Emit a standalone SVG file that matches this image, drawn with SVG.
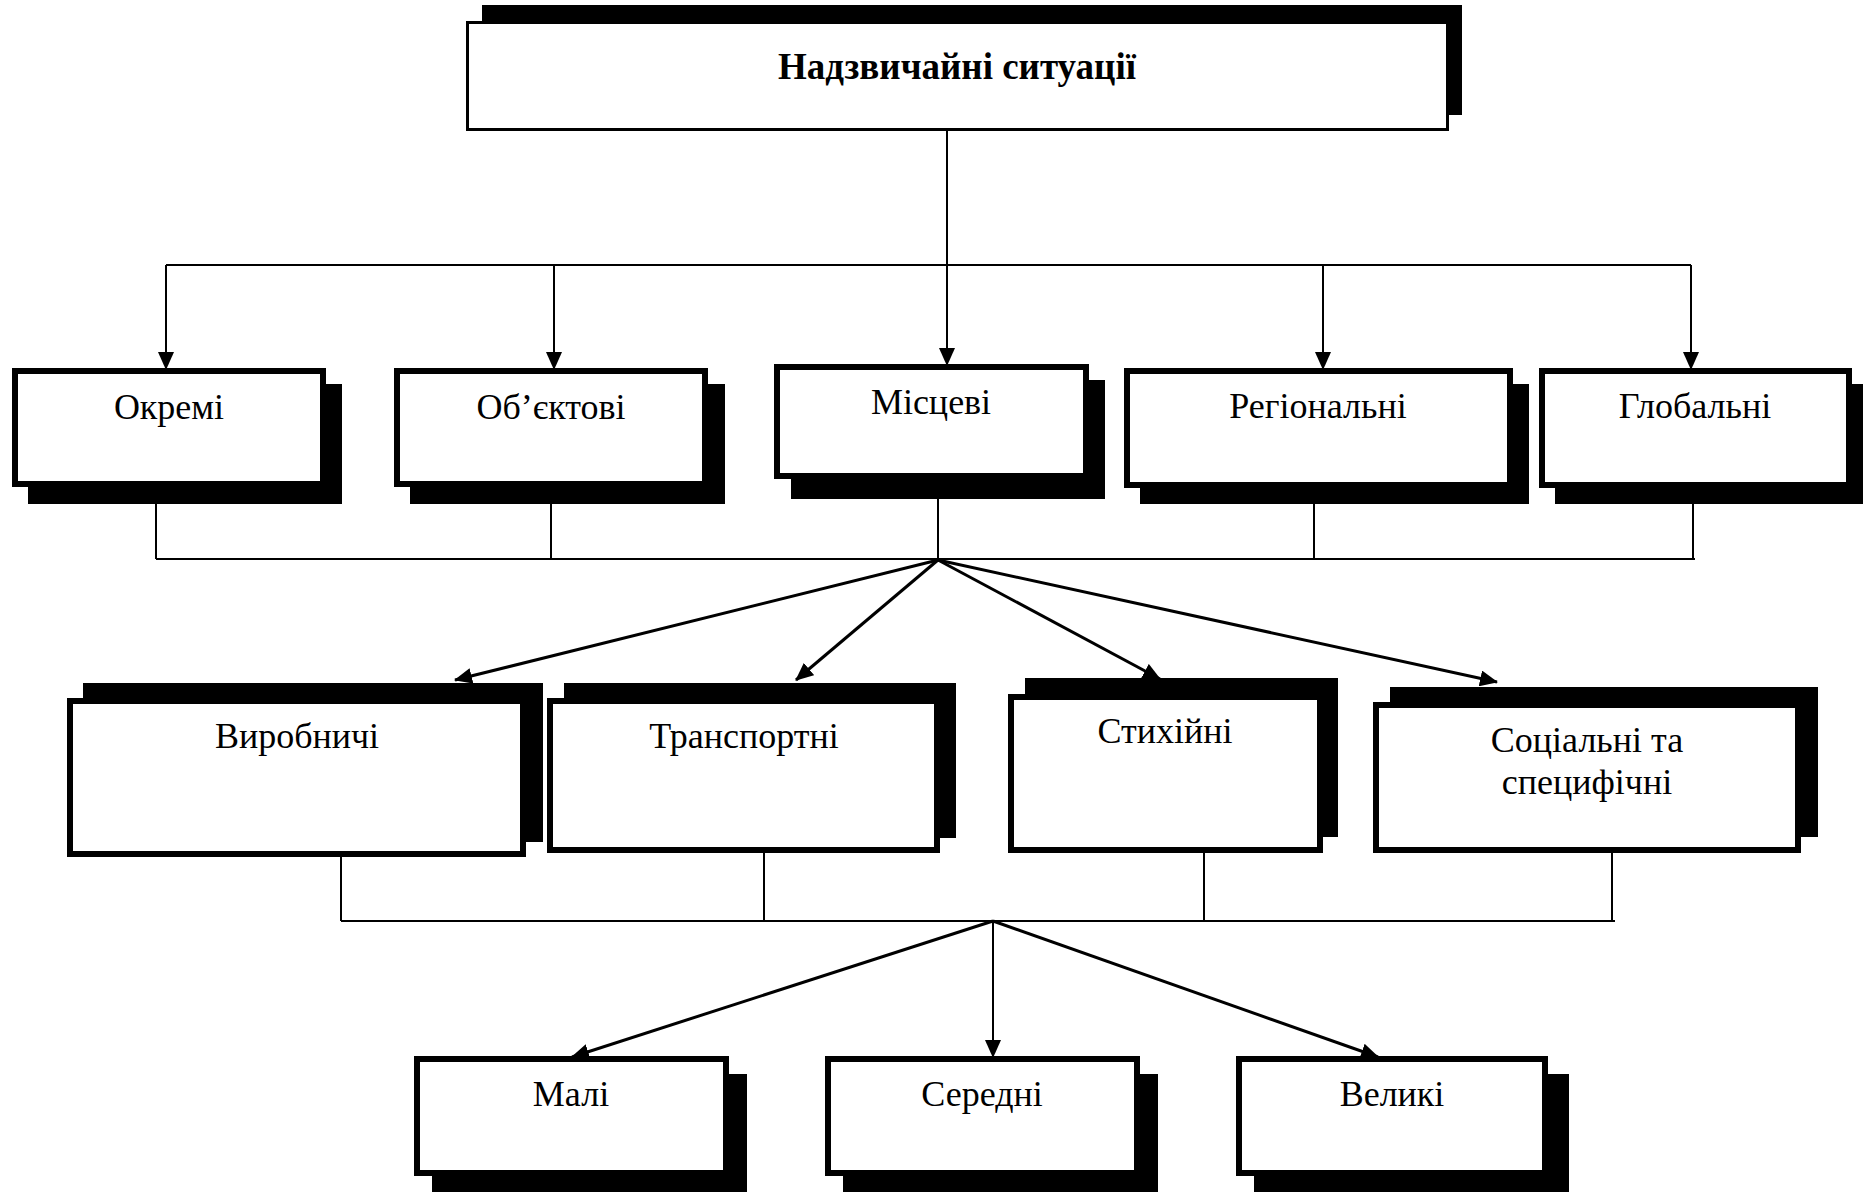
<svg xmlns="http://www.w3.org/2000/svg" width="1863" height="1192" viewBox="0 0 1863 1192">
<defs>
<marker id="ah" markerUnits="userSpaceOnUse" markerWidth="18" markerHeight="16" viewBox="0 0 18 16" refX="17" refY="8" orient="auto">
<path d="M0,0 L18,8 L0,16 Z" fill="#000"/>
</marker>
</defs>
<style>
.sh{fill:#000;}
.bx{fill:#fff;stroke:#000;stroke-width:6;}
.bt{fill:#fff;stroke:#000;stroke-width:3;}
.t{font-family:"Liberation Serif","Times New Roman",serif;font-size:36px;text-anchor:middle;fill:#000;}
.tb{font-family:"Liberation Serif","Times New Roman",serif;font-size:37px;font-weight:bold;text-anchor:middle;fill:#000;}
.ln{stroke:#000;stroke-width:2;fill:none;}
.ar{stroke:#000;stroke-width:2;fill:none;marker-end:url(#ah);}
.dg{stroke:#000;stroke-width:3;fill:none;marker-end:url(#ah);}
</style>
<rect width="1863" height="1192" fill="#fff"/>

<g id="connectors">
<line class="ln" x1="947" y1="131" x2="947" y2="265"/>
<line class="ln" x1="166" y1="265" x2="1691" y2="265"/>
<line class="ar" x1="947" y1="265" x2="947" y2="365"/>
<line class="ar" x1="166" y1="265" x2="166" y2="369"/>
<line class="ar" x1="554" y1="265" x2="554" y2="369"/>
<line class="ar" x1="1323" y1="265" x2="1323" y2="369"/>
<line class="ar" x1="1691" y1="265" x2="1691" y2="369"/>
<line class="ln" x1="156" y1="504" x2="156" y2="559"/>
<line class="ln" x1="551" y1="504" x2="551" y2="559"/>
<line class="ln" x1="938" y1="499" x2="938" y2="559"/>
<line class="ln" x1="1314" y1="504" x2="1314" y2="559"/>
<line class="ln" x1="1693" y1="504" x2="1693" y2="559"/>
<line class="ln" x1="156" y1="559" x2="1695" y2="559"/>
<line class="dg" x1="938" y1="560" x2="455" y2="680"/>
<line class="dg" x1="938" y1="560" x2="796" y2="680"/>
<line class="dg" x1="938" y1="560" x2="1160" y2="679"/>
<line class="dg" x1="938" y1="560" x2="1497" y2="682"/>
<line class="ln" x1="341" y1="853" x2="341" y2="921"/>
<line class="ln" x1="764" y1="853" x2="764" y2="921"/>
<line class="ln" x1="1204" y1="853" x2="1204" y2="921"/>
<line class="ln" x1="1612" y1="853" x2="1612" y2="921"/>
<line class="ln" x1="341" y1="921" x2="1615" y2="921"/>
<line class="dg" x1="993" y1="921" x2="572" y2="1057"/>
<line class="ar" x1="993" y1="921" x2="993" y2="1057"/>
<line class="dg" x1="993" y1="921" x2="1378" y2="1057"/>
</g>

<g id="n-main">
<rect class="sh" x="482" y="5" width="980" height="110"/>
<rect class="bt" x="467.5" y="22.5" width="980" height="107"/>
<text class="tb" x="957" y="79">Надзвичайні ситуації</text>
</g>

<g id="n-okremi">
<rect class="sh" x="28" y="384" width="314" height="120"/>
<rect class="bx" x="15" y="371" width="308" height="113"/>
<text class="t" x="169" y="419">Окремі</text>
</g>
<g id="n-obiektovi">
<rect class="sh" x="410" y="384" width="315" height="120"/>
<rect class="bx" x="397" y="371" width="308" height="113"/>
<text class="t" x="551" y="419">Об’єктові</text>
</g>
<g id="n-mistsevi">
<rect class="sh" x="791" y="380" width="314" height="119"/>
<rect class="bx" x="777" y="367" width="309" height="109"/>
<text class="t" x="931" y="414">Місцеві</text>
</g>
<g id="n-rehionalni">
<rect class="sh" x="1140" y="384" width="389" height="120"/>
<rect class="bx" x="1127" y="371" width="383" height="114"/>
<text class="t" x="1318" y="418">Регіональні</text>
</g>
<g id="n-hlobalni">
<rect class="sh" x="1555" y="384" width="315" height="120"/>
<rect class="bx" x="1542" y="371" width="307" height="114"/>
<text class="t" x="1695" y="418">Глобальні</text>
</g>

<g id="n-vyrobnychi">
<rect class="sh" x="83" y="683" width="460" height="159"/>
<rect class="bx" x="70" y="701" width="453" height="153"/>
<text class="t" x="297" y="748">Виробничі</text>
</g>
<g id="n-transportni">
<rect class="sh" x="564" y="683" width="392" height="155"/>
<rect class="bx" x="550" y="701" width="387" height="149"/>
<text class="t" x="744" y="748">Транспортні</text>
</g>
<g id="n-stykhiini">
<rect class="sh" x="1025" y="678" width="313" height="159"/>
<rect class="bx" x="1011" y="697" width="309" height="153"/>
<text class="t" x="1165" y="743">Стихійні</text>
</g>
<g id="n-sotsialni">
<rect class="sh" x="1390" y="687" width="428" height="150"/>
<rect class="bx" x="1376" y="705" width="422" height="145"/>
<text class="t" x="1587" y="752">Соціальні та</text>
<text class="t" x="1587" y="794">специфічні</text>
</g>

<g id="n-mali">
<rect class="sh" x="432" y="1074" width="315" height="126"/>
<rect class="bx" x="417" y="1059" width="309" height="114"/>
<text class="t" x="571" y="1106">Малі</text>
</g>
<g id="n-seredni">
<rect class="sh" x="843" y="1074" width="315" height="126"/>
<rect class="bx" x="828" y="1059" width="309" height="114"/>
<text class="t" x="982" y="1106">Середні</text>
</g>
<g id="n-velyki">
<rect class="sh" x="1254" y="1074" width="315" height="126"/>
<rect class="bx" x="1239" y="1059" width="306" height="114"/>
<text class="t" x="1392" y="1106">Великі</text>
</g>
</svg>
